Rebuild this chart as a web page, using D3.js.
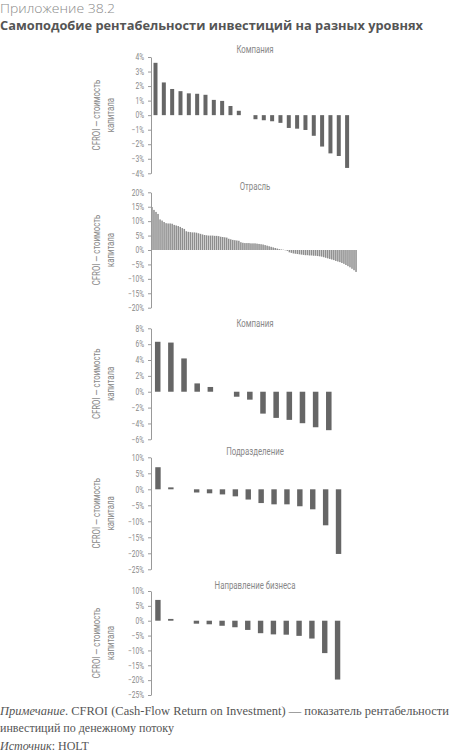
<!DOCTYPE html>
<html><head><meta charset="utf-8">
<script src="https://cdn.jsdelivr.net/npm/d3@7"></script>
<style>body{margin:0;background:#fff} svg{display:block}</style>
</head><body>
<svg id="c" width="450" height="753"></svg>
<script>
// ---- data ----
const panelTitles = ["Компания", "Отрасль", "Компания", "Подразделение", "Направление бизнеса"];
const companyValues = [3.6, 2.25, 1.8, 1.65, 1.5, 1.47, 1.4, 1.05, 0.98, 0.63, 0.3, 0,
  -0.28, -0.35, -0.42, -0.53, -0.88, -0.93, -1.02, -1.42, -2.16, -2.63, -2.81, -3.63];
const industryValues = [14.9, 13.9, 13.2, 12.5, 10.6, 10.2, 9.7, 9.3, 9.2, 9.2, 9.1,
  8.7, 8.5, 8.3, 8.0, 7.6, 7.3, 6.5, 6.3, 6.2, 6.1, 6.1, 6.0, 5.8, 5.6, 5.4,
  5.2, 5.1, 5.0, 5.0, 5.0, 4.9, 4.9, 4.8, 4.6, 4.5, 4.4, 4.3,
  3.9, 3.7, 3.5, 3.4, 3.3, 3.2,
  2.7, 2.5, 2.4, 2.4, 2.4, 2.3, 2.3, 2.3, 2.2, 2.1, 2.0, 1.9,
  1.7, 1.5, 1.3, 1.1, 0.9, 0.7, 0.5, 0.3, 0.2, 0.1, -0.1,
  -0.3, -0.8, -1.0, -1.2, -1.3, -1.4,
  -1.5, -1.6, -1.7, -1.8, -1.8, -1.9, -1.9, -2.0, -2.0,
  -2.1, -2.2, -2.3, -2.5, -2.7, -2.9, -3.1, -3.3, -3.5,
  -3.8, -4.0, -4.2, -4.5, -4.8, -5.2, -5.6, -6.0, -6.5, -7.0, -7.6];
const company2Values = [6.3, 6.2, 4.2, 1.05, 0.6, 0,
  -0.63, -1.0, -2.76, -3.3, -3.55, -3.97, -4.48, -4.85];
const divisionValues = [6.9, 0.6, 0, -1.0, -1.25, -1.6, -2.2, -3.2, -4.3, -4.7, -4.7, -5.3, -6.25, -11.25, -20.2];
const businessValues = [7.0, 0.6, 0, -1.0, -1.2, -1.7, -2.2, -3.1, -4.2, -4.6, -4.7, -5.1, -6.0, -10.9, -19.8];
const ticks1 = [-4, -3, -2, -1, 0, 1, 2, 3, 4];
const ticks2 = [-20, -15, -10, -5, 0, 5, 10, 15, 20];
const ticks3 = [-6, -4, -2, 0, 2, 4, 6, 8];
const ticks4 = [-25, -20, -15, -10, -5, 0, 5, 10];
const ticks5 = [-25, -20, -15, -10, -5, 0, 5, 10];

// ---- layout ----
const panels = [
  {title: panelTitles[0], values: companyValues, ticks: ticks1, top: 57, bottom: 173.3, titleY: 53, x1: 351.6, pi: 0.52, po: 0.3, fill: "#666"},
  {title: panelTitles[1], values: industryValues, ticks: ticks2, top: 192.3, bottom: 307.7, titleY: 190, x1: 357, pi: 0.25, po: 0.1, fill: "#8e8e8e"},
  {title: panelTitles[2], values: company2Values, ticks: ticks3, top: 328.3, bottom: 439.3, titleY: 327, x1: 335.5, pi: 0.58, po: 0.3, fill: "#666"},
  {title: panelTitles[3], values: divisionValues, ticks: ticks4, top: 457.3, bottom: 569.3, titleY: 455, x1: 345.5, pi: 0.58, po: 0.33, fill: "#666"},
  {title: panelTitles[4], values: businessValues, ticks: ticks5, top: 591, bottom: 695, titleY: 589, x1: 344.5, pi: 0.58, po: 0.33, fill: "#666"}
];
const axisX = 151;
const condFont = "Roboto, 'Open Sans', sans-serif";
const fmt = v => (v < 0 ? "\u2212" + Math.abs(v) : String(v)) + "%";

const svg = d3.select("#c");

svg.append("text").attr("x", 0).attr("y", 13)
  .attr("font-family", "'Open Sans', 'Noto Sans', sans-serif").attr("font-weight", 300)
  .attr("font-size", 13.5).attr("fill", "#8a8a8a").attr("class", "fit").attr("data-w", 115)
  .text("Приложение 38.2");
svg.append("text").attr("x", 0).attr("y", 29.5)
  .attr("font-family", "'Open Sans', 'Noto Sans', sans-serif").attr("font-weight", 700)
  .attr("font-size", 13).attr("fill", "#555").attr("class", "fit").attr("data-w", 423)
  .text("Самоподобие рентабельности инвестиций на разных уровнях");

panels.forEach(p => {
  const g = svg.append("g");
  const y = d3.scaleLinear().domain(d3.extent(p.ticks)).range([p.bottom, p.top]);
  const x = d3.scaleBand().domain(d3.range(p.values.length)).range([axisX, p.x1])
    .paddingInner(p.pi).paddingOuter(p.po);

  g.selectAll("rect").data(p.values).join("rect")
    .attr("x", (d, i) => x(i)).attr("width", x.bandwidth())
    .attr("y", d => y(Math.max(0, d))).attr("height", d => Math.abs(y(d) - y(0)))
    .attr("fill", p.fill);

  const ax = g.append("g").attr("transform", `translate(${axisX},0)`)
    .call(d3.axisLeft(y).tickValues(p.ticks).tickFormat(fmt).tickSize(3).tickSizeOuter(0).tickPadding(4));
  ax.select(".domain").attr("stroke", "#999");
  ax.selectAll(".tick line").attr("stroke", "#999");
  ax.selectAll(".tick text").attr("fill", "#888").attr("font-size", 8.5)
    .attr("font-family", condFont).attr("class", "cond");

  g.append("text").attr("x", 255).attr("y", p.titleY).attr("text-anchor", "middle")
    .attr("font-family", condFont).attr("font-size", 10).attr("fill", "#888")
    .attr("class", "cond").text(p.title);

  const cy = (p.top + p.bottom) / 2;
  g.append("text").attr("transform", `translate(100,${cy}) rotate(-90)`)
    .attr("text-anchor", "middle").attr("font-family", condFont).attr("font-size", 10).attr("fill", "#888")
    .attr("class", "cond").text("CFROI — стоимость");
  g.append("text").attr("transform", `translate(114,${cy}) rotate(-90)`)
    .attr("text-anchor", "middle").attr("font-family", condFont).attr("font-size", 10).attr("fill", "#888")
    .attr("class", "cond").text("капитала");
});

// footer
const serif = "'Liberation Serif', 'DejaVu Serif', serif";
const f1 = svg.append("text").attr("x", 0).attr("y", 715).attr("font-family", serif)
  .attr("font-size", 12).attr("fill", "#555").attr("class", "fit").attr("data-w", 449);
f1.append("tspan").attr("font-style", "italic").text("Примечание");
f1.append("tspan").text(". CFROI (Cash-Flow Return on Investment) — показатель рентабельности");
svg.append("text").attr("x", 0).attr("y", 732).attr("font-family", serif)
  .attr("font-size", 12).attr("fill", "#555").text("инвестиций по денежному потоку");
const f3 = svg.append("text").attr("x", 0).attr("y", 750).attr("font-family", serif)
  .attr("font-size", 12).attr("fill", "#555");
f3.append("tspan").attr("font-style", "italic").text("Источник");
f3.append("tspan").text(": HOLT");

// condense the narrow labels
svg.selectAll(".cond").each(function () {
  const L = this.getComputedTextLength();
  d3.select(this).attr("textLength", L * 0.78).attr("lengthAdjust", "spacingAndGlyphs");
});
svg.selectAll(".fit").each(function () {
  d3.select(this).attr("textLength", +this.getAttribute("data-w")).attr("lengthAdjust", "spacingAndGlyphs");
});
</script>
</body></html>
